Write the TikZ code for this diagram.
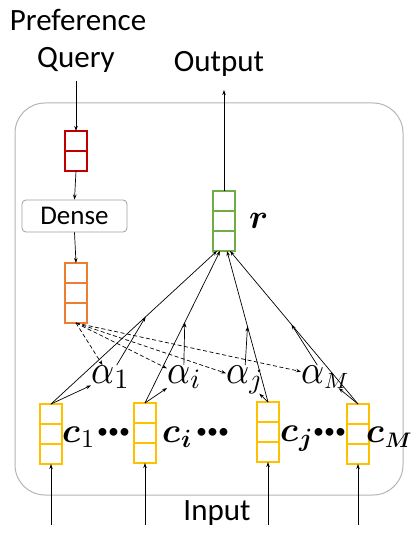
\RequirePackage{fix-cm}
\documentclass[tikz,border=0pt]{standalone}
\usepackage{bm}
\usepackage{fontspec}
\setmainfont{Carlito}
\usetikzlibrary{arrows.meta,calc}
\definecolor{cred}{HTML}{C00000}
\definecolor{corange}{HTML}{ED7D31}
\definecolor{cgreen}{HTML}{70AD47}
\definecolor{cyellow}{HTML}{FFC000}
\definecolor{cframe}{HTML}{B4B4B4}
\newcommand{\twocell}[2]{\draw[#2, line width=2pt] (#1.west) -- (#1.east);}
\newcommand{\threecell}[2]{\draw[#2, line width=2pt] ($(#1.north west)!1/3!(#1.south west)$) -- ($(#1.north east)!1/3!(#1.south east)$) ($(#1.north west)!2/3!(#1.south west)$) -- ($(#1.north east)!2/3!(#1.south east)$);}
\newcommand{\mkalpha}[2]{\scalebox{3.6}[4.1]{$\alpha$}\raisebox{-5pt}{\scalebox{#1}{$#2$}}}
\newcommand{\mkc}[2]{\scalebox{3.5}{$\bm{c}$}\hspace{1pt}\raisebox{-5pt}{\scalebox{#1}{$#2$}}}
\begin{document}
\begin{tikzpicture}[x=1pt,y=-1pt,
  vbox/.style={draw, line width=2pt, minimum width=22pt, minimum height=60pt, inner sep=0pt, outer sep=0pt},
  arr/.style={-{Stealth[length=5pt,width=3.5pt]}, line width=0.7pt},
  darr/.style={arr, dashed, dash pattern=on 4pt off 2.5pt},
  lbl/.style={font=\fontsize{31}{36}\selectfont, anchor=base, inner sep=0pt},
  alab/.style={inner sep=0pt, anchor=base west},
  clab/.style={inner sep=0pt, anchor=base west},
  dots/.style={font=\fontsize{22}{26}\selectfont, inner sep=0pt, anchor=west}]
\useasboundingbox (0,0) rectangle (415,537);
% frame
\draw[cframe, line width=1pt, rounded corners=30pt] (15,103) rectangle (403,495);
% texts
\node[lbl] (pref) at (78,31) {Preference};
\node[lbl] (query) at (76,68) {Query};
\node[lbl] (out) at (219,72) {Output};
\node[lbl] (inp) at (217,520) {Input};
% vectors
\node[vbox, draw=cred, minimum height=40pt] (q) at (76,151) {};
\twocell{q}{cred}
\node[draw=gray!75, line width=0.8pt, rounded corners=4pt, minimum width=105pt, minimum height=32pt, inner sep=0pt, font=\fontsize{27}{30}\selectfont] (dense) at (74.5,216) {Dense};
\node[vbox, draw=corange] (o) at (76,293) {};
\threecell{o}{corange}
\node[vbox, draw=cgreen] (r) at (224,221) {};
\threecell{r}{cgreen}
\node[vbox, draw=cyellow] (c1) at (51,434) {};
\threecell{c1}{cyellow}
\node[vbox, draw=cyellow] (ci) at (145,433) {};
\threecell{ci}{cyellow}
\node[vbox, draw=cyellow] (cj) at (268,432) {};
\threecell{cj}{cyellow}
\node[vbox, draw=cyellow] (cM) at (358,434) {};
\threecell{cM}{cyellow}
% labels
\node[clab] (rl) at (249,228) {\scalebox{3.4}{$\bm{r}$}};
\node[clab] (l1) at (62,442) {\mkc{2.6}{1}};
\node[dots] (d1) at (97,433) {•••};
\node[clab] (li) at (162,442) {\mkc{2.5}{\bm{i}}};
\node[dots] (di) at (196,433) {•••};
\node[clab] (lj) at (280,441) {\mkc{2.5}{\bm{j}}};
\node[dots] (dj) at (313,433) {•••};
\node[clab] (lM) at (366,442) {\mkc{2.1}{\bm{M}}};
% alphas
\node[alab] (a1) at (91,383) {\mkalpha{2.8}{1}};
\node[alab] (ai) at (167,383) {\mkalpha{2.8}{i}};
\node[alab] (aj) at (226,383) {\mkalpha{2.8}{j}};
\node[alab] (aM) at (301,383) {\mkalpha{2.2}{M}};
% coordinates
\coordinate (qs) at (76,81);
\coordinate (os) at (224,90);
\coordinate (i1) at (51,525);
\coordinate (ii) at (145,525);
\coordinate (ij) at (268,525);
\coordinate (iM) at (358,525);
\coordinate (r1) at ($(r.south)+(-7,0)$);
\coordinate (r2) at ($(r.south)+(-4,0)$);
\coordinate (r3) at ($(r.south)+(3,0)$);
\coordinate (r4) at ($(r.south)+(6,0)$);
\coordinate (m1) at ($(c1.north)!0.57!(r1)$);
\coordinate (mi) at ($(ci.north)!0.53!(r2)$);
\coordinate (mj) at ($(cj.north)!0.5!(r3)$);
\coordinate (mM) at ($(cM.north)!0.52!(r4)$);
% arrows
\draw[arr] (qs) -- (q.north);
\draw[arr] (q.south) -- (dense.north);
\draw[arr] (dense.south) -- (o.north);
\draw[arr] (r.north) -- (os);
\draw[arr] (i1) -- (c1.south);
\draw[arr] (ii) -- (ci.south);
\draw[arr] (ij) -- (cj.south);
\draw[arr] (iM) -- (cM.south);
\draw[arr] (c1.north) -- (r1);
\draw[arr] (ci.north) -- (r2);
\draw[arr] (cj.north) -- (r3);
\draw[arr] (cM.north) -- (r4);
\draw[arr] (c1.north) -- (a1);
\draw[arr] (ci.north) -- (ai);
\draw[arr] (cj.north) -- (aj);
\draw[arr] (cM.north) -- (aM);
\draw[arr] (a1) -- (m1);
\draw[arr] (ai) -- (mi);
\draw[arr] (aj) -- (mj);
\draw[arr] (aM) -- (mM);
\draw[darr] (o.south) -- (a1);
\draw[darr] (o.south) -- (ai);
\draw[darr] (o.south) -- (aj);
\draw[darr] (o.south) -- (aM);
\end{tikzpicture}
\end{document}
